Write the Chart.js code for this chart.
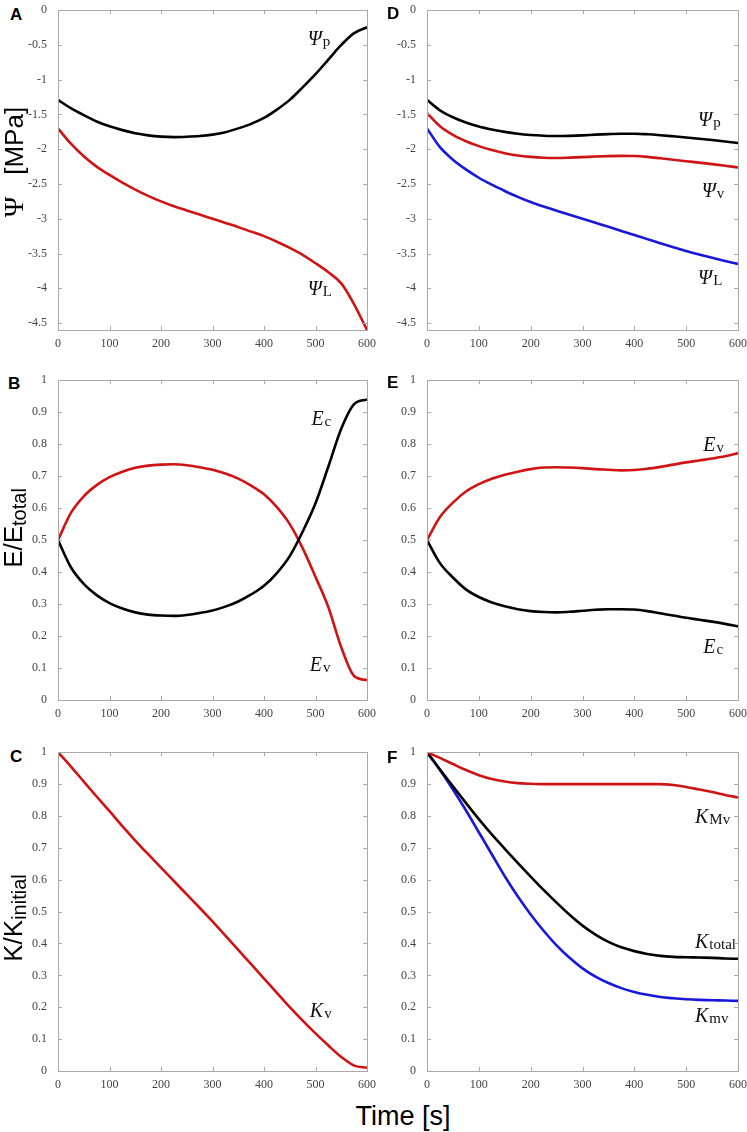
<!DOCTYPE html>
<html>
<head>
<meta charset="utf-8">
<title>Water potential, transpiration and conductance over time</title>
<script src="https://cdn.jsdelivr.net/npm/chart.js@4.4.0/dist/chart.umd.min.js"></script>
<style>
  body { margin: 0; background: #fff; }
  #page { position: relative; width: 747px; height: 1132px; overflow: hidden; font-family: "Liberation Sans", Arial, sans-serif; color: #000; }
  .panel { position: absolute; }
  .letter { position: absolute; font-weight: bold; font-size: 17px; line-height: 17px; }
  .ytitle { position: absolute; font-size: 26px; line-height: 1; white-space: pre; transform: translate(-50%, -50%) rotate(-90deg); }
  .ytitle .psi { font-family: "Liberation Serif", serif; font-size: 28px; }
  .ytitle sub { font-size: 20px; vertical-align: -4px; }
  .xtitle { position: absolute; font-size: 27px; line-height: 1; white-space: nowrap; transform: translate(-50%, -50%); }
</style>
</head>
<body>
<div id="page">
  <canvas class="panel" id="chartA" width="350" height="350" style="left:28px;top:0px"></canvas>
  <canvas class="panel" id="chartD" width="350" height="350" style="left:397px;top:0px"></canvas>
  <canvas class="panel" id="chartB" width="350" height="350" style="left:28px;top:370px"></canvas>
  <canvas class="panel" id="chartE" width="350" height="350" style="left:397px;top:370px"></canvas>
  <canvas class="panel" id="chartC" width="350" height="349" style="left:28px;top:742px"></canvas>
  <canvas class="panel" id="chartF" width="350" height="349" style="left:397px;top:742px"></canvas>

  <div class="letter" style="left:10px;top:6px">A</div>
  <div class="letter" style="left:387px;top:5px">D</div>
  <div class="letter" style="left:8px;top:375px">B</div>
  <div class="letter" style="left:387px;top:374px">E</div>
  <div class="letter" style="left:10px;top:748px">C</div>
  <div class="letter" style="left:387px;top:749px">F</div>

  <div class="ytitle" style="left:14px;top:162px"><span class="psi">Ψ</span>   [MPa]</div>
  <div class="ytitle" style="left:14px;top:528px">E/E<sub>total</sub></div>
  <div class="ytitle" style="left:14px;top:918px">K/K<sub>initial</sub></div>
  <div class="xtitle" style="left:403px;top:1116px">Time [s]</div>
</div>

<script>
// time [s] shared by every curve (one reading every 25 s)
var time = [0, 25, 50, 75, 100, 125, 150, 175, 200, 225, 250, 275, 300, 325, 350, 375, 400, 425, 450, 475, 500, 525, 550, 575, 600];

// A: water potentials [MPa]
var psiP_A = [-1.29, -1.41, -1.51, -1.60, -1.67, -1.725, -1.77, -1.80, -1.818, -1.825, -1.82, -1.81, -1.79, -1.755, -1.70, -1.635, -1.55, -1.43, -1.29, -1.11, -0.92, -0.71, -0.50, -0.33, -0.245];
var psiL_A = [-1.70, -1.92, -2.10, -2.25, -2.37, -2.48, -2.58, -2.67, -2.75, -2.82, -2.88, -2.94, -3.00, -3.06, -3.12, -3.185, -3.25, -3.33, -3.42, -3.52, -3.64, -3.77, -3.93, -4.23, -4.60];

// D: water potentials [MPa]
var psiP_D = [-1.29, -1.44, -1.54, -1.615, -1.672, -1.715, -1.75, -1.777, -1.795, -1.805, -1.81, -1.807, -1.80, -1.79, -1.782, -1.777, -1.777, -1.785, -1.798, -1.814, -1.831, -1.849, -1.868, -1.888, -1.91];
var psiV_D = [-1.48, -1.67, -1.795, -1.885, -1.955, -2.012, -2.058, -2.09, -2.11, -2.122, -2.125, -2.12, -2.113, -2.105, -2.099, -2.096, -2.098, -2.11, -2.13, -2.151, -2.172, -2.193, -2.214, -2.237, -2.262];
var psiL_D = [-1.70, -1.97, -2.15, -2.29, -2.41, -2.51, -2.60, -2.685, -2.76, -2.825, -2.885, -2.943, -3.00, -3.058, -3.115, -3.175, -3.233, -3.293, -3.352, -3.408, -3.463, -3.514, -3.562, -3.607, -3.65];

// B: E / E_total
var eV_B = [0.50, 0.585, 0.637, 0.672, 0.697, 0.714, 0.726, 0.733, 0.736, 0.737, 0.734, 0.728, 0.72, 0.708, 0.692, 0.670, 0.643, 0.603, 0.55, 0.475, 0.385, 0.29, 0.165, 0.075, 0.062];
var eC_B = [0.50, 0.415, 0.363, 0.328, 0.303, 0.286, 0.274, 0.267, 0.264, 0.263, 0.266, 0.272, 0.28, 0.292, 0.308, 0.330, 0.357, 0.397, 0.45, 0.526, 0.615, 0.73, 0.848, 0.925, 0.94];

// E: E / E_total
var eV_E = [0.50, 0.572, 0.617, 0.652, 0.675, 0.692, 0.704, 0.714, 0.722, 0.727, 0.728, 0.727, 0.725, 0.722, 0.72, 0.718, 0.719, 0.723, 0.729, 0.736, 0.743, 0.749, 0.755, 0.762, 0.772];
var eC_E = [0.50, 0.428, 0.383, 0.346, 0.322, 0.305, 0.293, 0.284, 0.278, 0.275, 0.274, 0.276, 0.279, 0.282, 0.284, 0.284, 0.283, 0.278, 0.271, 0.264, 0.257, 0.251, 0.245, 0.238, 0.23];

// C: K / K_initial
var kV_C = [1.0, 0.955, 0.908, 0.861, 0.815, 0.768, 0.723, 0.68, 0.638, 0.596, 0.554, 0.512, 0.469, 0.425, 0.38, 0.335, 0.29, 0.245, 0.2, 0.158, 0.118, 0.08, 0.044, 0.017, 0.01];

// F: K / K_initial
var kMv_F = [1.0, 0.982, 0.963, 0.944, 0.928, 0.916, 0.908, 0.903, 0.901, 0.90, 0.90, 0.90, 0.90, 0.90, 0.90, 0.90, 0.90, 0.90, 0.90, 0.897, 0.891, 0.883, 0.875, 0.866, 0.858];
var kTotal_F = [1.0, 0.946, 0.893, 0.841, 0.79, 0.742, 0.697, 0.653, 0.61, 0.568, 0.528, 0.49, 0.456, 0.428, 0.405, 0.388, 0.376, 0.367, 0.361, 0.358, 0.357, 0.356, 0.355, 0.353, 0.352];
var kmv_F = [1.0, 0.944, 0.883, 0.818, 0.749, 0.68, 0.611, 0.548, 0.491, 0.44, 0.394, 0.355, 0.322, 0.296, 0.276, 0.26, 0.248, 0.239, 0.232, 0.228, 0.225, 0.223, 0.222, 0.221, 0.22];

// tick values
var xTicks = [0, 100, 200, 300, 400, 500, 600];
var psiTicks = [0, -0.5, -1, -1.5, -2, -2.5, -3, -3.5, -4, -4.5];
var fracTicks = [0, 0.1, 0.2, 0.3, 0.4, 0.5, 0.6, 0.7, 0.8, 0.9, 1];

var RED = '#d01414';
var BLACK = '#000000';
var BLUE = '#1818dc';
var AXIS = '#a9a9a9';

function series(vals, color) {
  return {
    data: time.map(function (t, i) { return { x: t, y: vals[i] }; }),
    borderColor: color,
    borderWidth: 2.6,
    pointRadius: 0,
    fill: false,
    cubicInterpolationMode: 'monotone'
  };
}

// grey box with inward tick marks on all four sides, like the original plots
var boxTicks = {
  id: 'boxTicks',
  afterDraw: function (chart) {
    var ctx = chart.ctx, a = chart.chartArea;
    var xs = chart.scales.x, ys = chart.scales.y, len = 4;
    ctx.save();
    ctx.strokeStyle = AXIS;
    ctx.lineWidth = 1;
    ctx.strokeRect(Math.round(a.left) + 0.5, Math.round(a.top) + 0.5, Math.round(a.right - a.left), Math.round(a.bottom - a.top));
    ctx.beginPath();
    xs.ticks.forEach(function (tk) {
      var px = Math.round(xs.getPixelForValue(tk.value)) + 0.5;
      ctx.moveTo(px, a.bottom); ctx.lineTo(px, a.bottom - len);
      ctx.moveTo(px, a.top); ctx.lineTo(px, a.top + len);
    });
    ys.ticks.forEach(function (tk) {
      var py = Math.round(ys.getPixelForValue(tk.value)) + 0.5;
      ctx.moveTo(a.left, py); ctx.lineTo(a.left + len, py);
      ctx.moveTo(a.right, py); ctx.lineTo(a.right - len, py);
    });
    ctx.stroke();
    ctx.restore();
  }
};

// italic curve names with upright subscripts, placed in data coordinates
var curveLabels = {
  id: 'curveLabels',
  afterDatasetsDraw: function (chart, args, opts) {
    var ctx = chart.ctx, xs = chart.scales.x, ys = chart.scales.y;
    (opts.items || []).forEach(function (it) {
      var px = xs.getPixelForValue(it.t), py = ys.getPixelForValue(it.v);
      ctx.save();
      ctx.fillStyle = '#111';
      ctx.textBaseline = 'alphabetic';
      ctx.font = 'italic 20px "Liberation Serif", serif';
      ctx.fillText(it.text, px, py);
      var w = ctx.measureText(it.text).width;
      ctx.font = '15px "Liberation Serif", serif';
      ctx.fillText(it.sub, px + w + 1, py + 1);
      ctx.restore();
    });
  }
};

function makePanel(id, datasets, yMin, yMax, yTicks, labels, padRight) {
  var tickFont = { family: '"Liberation Serif", serif', size: 12 };
  return new Chart(document.getElementById(id), {
    type: 'line',
    data: { datasets: datasets },
    options: {
      responsive: false,
      animation: false,
      layout: { padding: { top: 5, right: padRight, left: 0, bottom: 0 }, autoPadding: false },
      plugins: { legend: { display: false }, tooltip: { enabled: false }, curveLabels: { items: labels } },
      scales: {
        x: {
          type: 'linear', min: 0, max: 600,
          grid: { display: false }, border: { display: false },
          afterBuildTicks: function (s) { s.ticks = xTicks.map(function (v) { return { value: v }; }); },
          afterFit: function (s) { s.height = 20; },
          ticks: { font: tickFont, color: '#444', padding: -1, maxRotation: 0, autoSkip: false,
                   callback: function (v) { return String(v); } }
        },
        y: {
          type: 'linear', min: yMin, max: yMax,
          grid: { display: false }, border: { display: false },
          afterBuildTicks: function (s) { s.ticks = yTicks.map(function (v) { return { value: v }; }); },
          afterFit: function (s) { s.width = 30; },
          ticks: { font: tickFont, color: '#444', padding: 3, autoSkip: false,
                   callback: function (v) { return String(v); } }
        }
      }
    },
    plugins: [boxTicks, curveLabels]
  });
}

makePanel('chartA', [series(psiP_A, BLACK), series(psiL_A, RED)], -4.6, 0, psiTicks, [
  { text: 'Ψ', sub: 'p', t: 485, v: -0.495 },
  { text: 'Ψ', sub: 'L', t: 485, v: -4.09 }
], 11);

makePanel('chartD', [series(psiP_D, BLACK), series(psiV_D, RED), series(psiL_D, BLUE)], -4.6, 0, psiTicks, [
  { text: 'Ψ', sub: 'p', t: 523, v: -1.67 },
  { text: 'Ψ', sub: 'v', t: 530, v: -2.69 },
  { text: 'Ψ', sub: 'L', t: 523, v: -3.935 }
], 9);

makePanel('chartB', [series(eC_B, BLACK), series(eV_B, RED)], 0, 1, fracTicks, [
  { text: 'E', sub: 'c', t: 492, v: 0.86 },
  { text: 'E', sub: 'v', t: 489, v: 0.092 }
], 11);

makePanel('chartE', [series(eC_E, BLACK), series(eV_E, RED)], 0, 1, fracTicks, [
  { text: 'E', sub: 'v', t: 533, v: 0.78 },
  { text: 'E', sub: 'c', t: 533, v: 0.146 }
], 9);

makePanel('chartC', [series(kV_C, RED)], 0, 1, fracTicks, [
  { text: 'K', sub: 'v', t: 489, v: 0.17 }
], 11);

makePanel('chartF', [series(kMv_F, RED), series(kTotal_F, BLACK), series(kmv_F, BLUE)], 0, 1, fracTicks, [
  { text: 'K', sub: 'Mv', t: 517, v: 0.777 },
  { text: 'K', sub: 'total', t: 517, v: 0.386 },
  { text: 'K', sub: 'mv', t: 517, v: 0.154 }
], 9);
</script>
</body>
</html>
